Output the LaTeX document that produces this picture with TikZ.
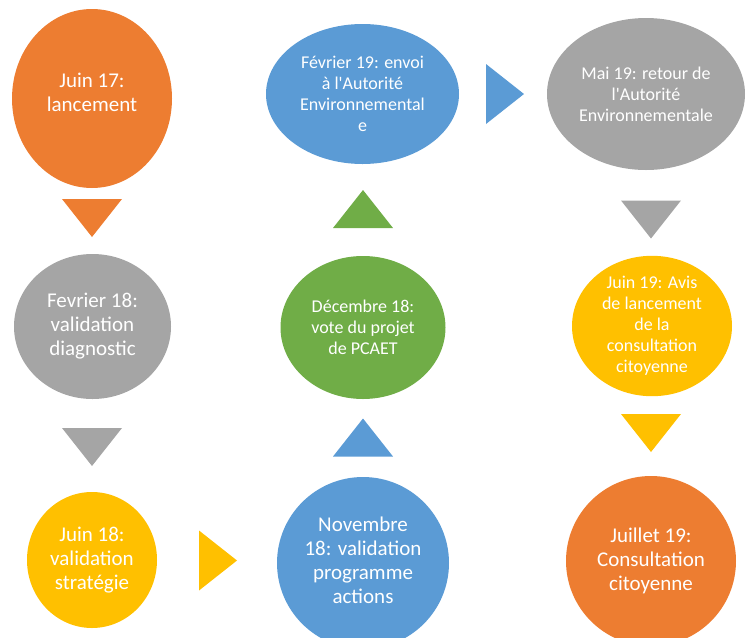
\documentclass[tikz,border=0pt]{standalone}
\usepackage{fontspec}
\setmainfont{Carlito}
\usetikzlibrary{shapes.geometric}
\definecolor{cOrange}{HTML}{ED7D31}
\definecolor{cGray}{HTML}{A5A5A5}
\definecolor{cYellow}{HTML}{FFC000}
\definecolor{cBlue}{HTML}{5B9BD5}
\definecolor{cGreen}{HTML}{70AD47}
\tikzset{
  stage/.style={ellipse, inner sep=0pt, text=white, align=center},
  bigtxt/.style={font=\fontsize{21}{24}\selectfont},
  smalltxt/.style={font=\fontsize{18}{21}\selectfont},
}
\newcommand{\tridown}[2]{\fill[#1] (#2) ++(-30,-19) -- ++(60,0) -- ++(-30,38) -- cycle;}
\newcommand{\triup}[2]{\fill[#1] (#2) ++(-30,19) -- ++(60,0) -- ++(-30,-38) -- cycle;}
\newcommand{\triright}[2]{\fill[#1] (#2) ++(-19,-30) -- ++(0,60) -- ++(38,-30) -- cycle;}
\begin{document}
\begin{tikzpicture}[x=1pt,y=-1pt]
\useasboundingbox (0,0) rectangle (748,638);
\begin{scope}
\clip (0,0) rectangle (748,638);
% stages
\node[stage, fill=cOrange, minimum width=160, minimum height=179,
  label={[bigtxt, text=white, align=center, yshift=6]center:{Juin 17:\\lancement}}] (e1) at (92,98.5) {};
\node[stage, bigtxt, fill=cGray, minimum width=157, minimum height=145] (e2) at (92.5,326.5) {Fevrier 18:\\validation\\diagnostic};
\node[stage, bigtxt, fill=cYellow, minimum width=130, minimum height=136] (e3) at (92,560) {Juin 18:\\validation\\stratégie};
\node[stage, bigtxt, fill=cBlue, minimum width=172, minimum height=172,
  label={[bigtxt, text=white, align=center, yshift=3]center:{Novembre\\18: validation\\programme\\actions}}] (e4) at (363,563) {};
\node[stage, smalltxt, fill=cGreen, minimum width=165, minimum height=143] (e5) at (363,327.5) {Décembre 18:\\vote du projet\\de PCAET};
\node[stage, smalltxt, fill=cBlue, minimum width=193, minimum height=140] (e6) at (362.5,94) {Février 19: envoi\\à l\textquotesingle Autorité\\Environnemental\\e};
\node[stage, smalltxt, fill=cGray, minimum width=198, minimum height=152] (e7) at (646,94) {Mai 19: retour de\\l\textquotesingle Autorité\\Environnementale};
\node[stage, smalltxt, fill=cYellow, minimum width=160, minimum height=126] (e8) at (652,326) {Juin 19: Avis\\de lancement\\de la\\consultation\\citoyenne};
\node[stage, bigtxt, fill=cOrange, minimum width=170, minimum height=170] (e9) at (651,561) {Juillet 19:\\Consultation\\citoyenne};
\end{scope}
% arrow triangles
\coordinate (t1) at (92,218);
\coordinate (t2) at (92,447);
\coordinate (t3) at (218,560.5);
\coordinate (t4) at (363,437.5);
\coordinate (t5) at (363,209);
\coordinate (t6) at (505,94);
\coordinate (t7) at (651,219.5);
\coordinate (t8) at (651,433);
\tridown{cOrange}{t1}
\tridown{cGray}{t2}
\triright{cYellow}{t3}
\triup{cBlue}{t4}
\triup{cGreen}{t5}
\triright{cBlue}{t6}
\tridown{cGray}{t7}
\tridown{cYellow}{t8}
\end{tikzpicture}
\end{document}
